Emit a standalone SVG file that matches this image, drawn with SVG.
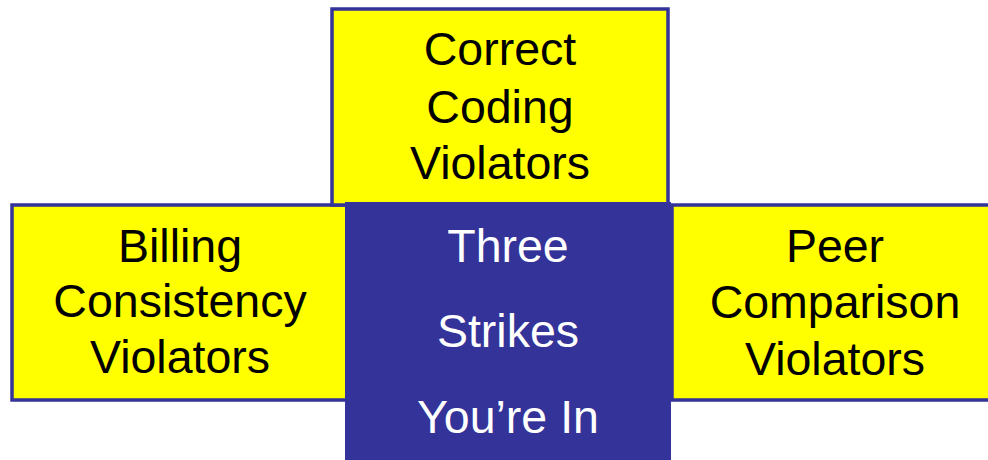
<svg xmlns="http://www.w3.org/2000/svg" width="988" height="460" viewBox="0 0 988 460">
  <style>
    .box { fill: #FFFF00; stroke: #333399; stroke-width: 3.5; }
    .core { fill: #333399; }
    .lbl { font-family: "Liberation Sans", Arial, sans-serif; font-size: 46.5px; text-anchor: middle; fill: #000000; }
    .lbl-w { fill: #FFFFFF; }
  </style>
  <rect width="988" height="460" fill="#FFFFFF"/>

  <!-- side and top categories -->
  <g id="billing">
    <rect class="box" x="12" y="205" width="340" height="195"/>
    <text class="lbl" x="180" y="262">Billing</text>
    <text class="lbl" x="180" y="317">Consistency</text>
    <text class="lbl" x="180" y="373">Violators</text>
  </g>
  <g id="peer">
    <rect class="box" x="672" y="205" width="330" height="195"/>
    <text class="lbl" x="835" y="262">Peer</text>
    <text class="lbl" x="835" y="318">Comparison</text>
    <text class="lbl" x="835" y="375">Violators</text>
  </g>
  <g id="coding">
    <rect class="box" x="332" y="9" width="336" height="196"/>
    <text class="lbl" x="500" y="65">Correct</text>
    <text class="lbl" x="500" y="123">Coding</text>
    <text class="lbl" x="500" y="179">Violators</text>
  </g>

  <!-- central block -->
  <g id="three-strikes">
    <rect class="core" x="345" y="202" width="326" height="260"/>
    <text class="lbl lbl-w" x="508" y="262">Three</text>
    <text class="lbl lbl-w" x="508" y="347">Strikes</text>
    <text class="lbl lbl-w" x="508" y="433">You’re In</text>
  </g>

  <g id="connectors"/>
</svg>
